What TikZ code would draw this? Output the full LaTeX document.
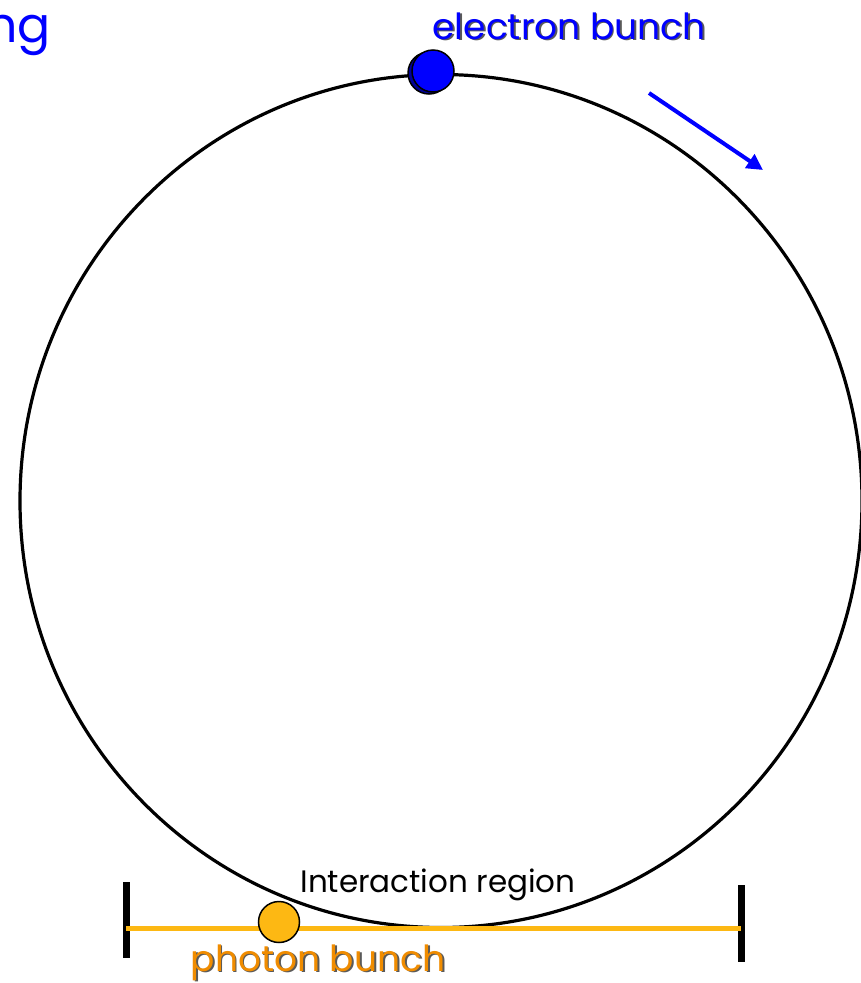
\documentclass[tikz,border=0pt]{standalone}
\usepackage{fontspec}
\setmainfont{Poppins}
\usetikzlibrary{arrows.meta,shapes.geometric}
\definecolor{eblue}{RGB}{0,0,255}
\definecolor{gold}{RGB}{253,184,19}
\definecolor{porange}{RGB}{240,140,0}
\definecolor{shade}{RGB}{90,90,90}
\newcommand{\shadowed}[2]{\makebox[0pt][l]{\hspace{1.8pt}\raisebox{-1.8pt}{\textcolor{shade}{#2}}}\textcolor{#1}{#2}}
\tikzset{
  lbl/.style={inner sep=0pt, anchor=base},
  bunch/.style={draw=black, line width=1.5pt},
  mirror/.style={line width=7pt, draw=black}
}
\begin{document}
\begin{tikzpicture}[x=1pt,y=-1pt]
\clip (0,0) rectangle (861,983);
\fill[white] (0,0) rectangle (861,983);
% ring
\node[draw=black, line width=3.2pt, ellipse, minimum width=842pt, minimum height=853pt, inner sep=0pt] (ring) at (441,501) {};
% electron bunch
\node[bunch, fill=eblue!60!black, circle, minimum size=42pt, inner sep=0pt] (eshadow) at (429,73) {};
\node[bunch, fill=eblue, circle, minimum size=42pt, inner sep=0pt] (ebunch) at (433,71) {};
\node[lbl, font=\fontsize{36}{36}\selectfont] (etxt) at (569,39) {\shadowed{eblue}{electron bunch}};
% ng
\node[lbl, anchor=base east, text=eblue, font=\fontsize{49}{49}\selectfont] (ng) at (51,42) {ng};
% direction arrow
\coordinate (a1) at (649,93);
\coordinate (a2) at (763,170);
\draw[eblue, line width=4pt, -{Triangle[length=16pt,width=16pt]}] (a1) -- (a2);
% mirrors and photon path
\coordinate (m1t) at (126,882);
\coordinate (m1b) at (126,958);
\coordinate (m2t) at (741,885);
\coordinate (m2b) at (741,962);
\draw[mirror] (m1t) -- (m1b);
\draw[mirror] (m2t) -- (m2b);
\coordinate (p1) at (126,928);
\coordinate (p2) at (741,928);
\draw[gold, line width=5pt] (p1) -- (p2);
% photon bunch
\node[bunch, fill=gold, ellipse, minimum width=41pt, minimum height=41pt, inner sep=0pt] (pbunch) at (279,922) {};
% labels
\node[lbl, text=black, font=\fontsize{31}{31}\selectfont] (itxt) at (438,892) {Interaction region};
\node[lbl, font=\fontsize{36}{36}\selectfont] (ptxt) at (318,971) {\shadowed{porange}{photon bunch}};
\end{tikzpicture}
\end{document}
